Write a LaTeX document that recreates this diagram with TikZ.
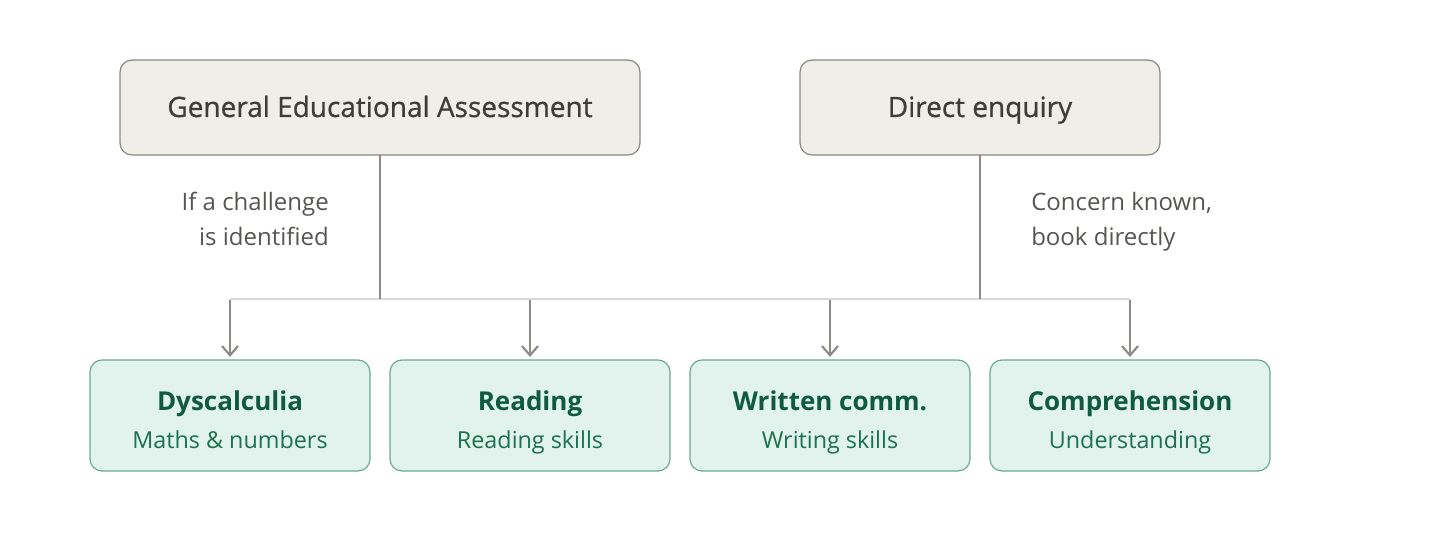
\documentclass[tikz,border=0pt]{standalone}
\usepackage{fontspec}
\setmainfont{Open Sans}
\usetikzlibrary{arrows.meta}
\definecolor{topfill}{HTML}{F0EEE8}
\definecolor{topdraw}{HTML}{8A8782}
\definecolor{toptext}{HTML}{3D3D3A}
\definecolor{botfill}{HTML}{E1F3EC}
\definecolor{botdraw}{HTML}{6AAA90}
\definecolor{bottitle}{HTML}{0F5A40}
\definecolor{botsub}{HTML}{1B7152}
\definecolor{linegray}{HTML}{8C8A85}
\definecolor{hgray}{HTML}{D8D8D6}
\definecolor{labgray}{HTML}{555552}
\tikzset{
  topbox/.style={draw=topdraw, fill=topfill, line width=0.9pt, rounded corners=9pt},
  toptxt/.style={text=toptext, font=\fontsize{21}{24}\selectfont\addfontfeature{FakeBold=0.8}, anchor=base, inner sep=0pt},
  botbox/.style={draw=botdraw, fill=botfill, line width=0.9pt, rounded corners=9pt},
  bt/.style={text=bottitle, font=\fontsize{19.5}{23}\selectfont\bfseries, anchor=base, inner sep=0pt},
  bs/.style={text=botsub, font=\fontsize{17.5}{20}\selectfont, anchor=base, inner sep=0pt},
  trunk/.style={draw=linegray, line width=2.2pt},
  rail/.style={draw=hgray, line width=1.5pt},
  arr/.style={draw=linegray, line width=1.8pt, -{Straight Barb[length=7pt,width=12pt,line width=1.6pt]}},
  lab/.style={text=labgray, font=\fontsize{18}{22}\selectfont, inner sep=0pt},
}
\begin{document}
\begin{tikzpicture}[x=0.75pt,y=-0.75pt]
\useasboundingbox (0,0) rectangle (1440,560);
% top boxes
\path[topbox] (120,60) rectangle (640,155);
\node[toptxt] (gea) at (380,117) {General Educational Assessment};
\path[topbox] (800,60) rectangle (1160,155);
\node[toptxt] (de) at (980,117) {Direct enquiry};
\coordinate (geab) at (380,155);
\coordinate (deb) at (980,155);
\coordinate (gj) at (380,299);
\coordinate (dj) at (980,299);
\coordinate (r1) at (230,299);
\coordinate (r2) at (1130,299);
% labels
\node[lab, anchor=base east] (l1a) at (329,210) {If a challenge};
\node[lab, anchor=base east] (l1b) at (329,245) {is identified};
\node[lab, anchor=base west] (l2a) at (1031,210) {Concern known,};
\node[lab, anchor=base west] (l2b) at (1031,245) {book directly};
% rail
\draw[rail] (r1) -- (r2);
\draw[trunk] (geab) -- (gj);
\draw[trunk] (deb) -- (dj);
% bottom boxes
\foreach \x/\n/\t/\s in {90/a/Dyscalculia/Maths \& numbers, 390/b/Reading/Reading skills, 690/c/Written comm./Writing skills, 990/d/Comprehension/Understanding}{
  \path[botbox] (\x,360) rectangle (\x+280,471);
  \node[bt] (\n t) at (\x+140,410) {\t};
  \node[bs] (\n s) at (\x+140,448) {\s};
  \coordinate (\n top) at (\x+140,357);
  \coordinate (\n r) at (\x+140,300);
  \draw[arr] (\n r) -- (\n top);
}
\end{tikzpicture}
\end{document}
